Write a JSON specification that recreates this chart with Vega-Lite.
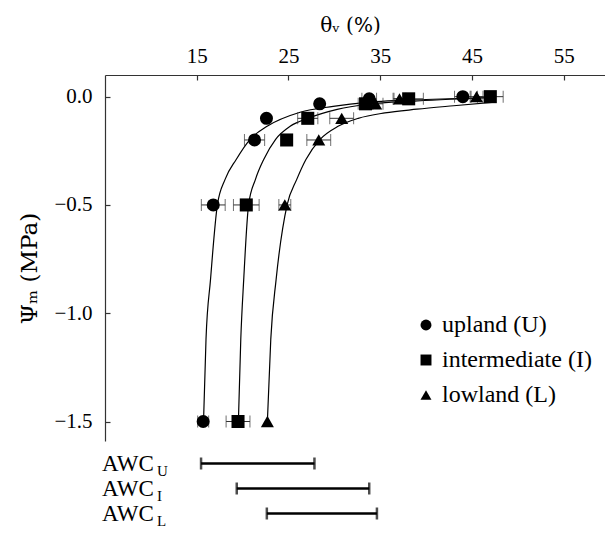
{
  "$schema": "https://vega.github.io/schema/vega-lite/v6.json",
  "padding": {"left": 18, "top": 15, "right": 0, "bottom": 0},
  "config": {
    "view": {"stroke": null},
    "font": "Liberation Serif",
    "concat": {"spacing": 10},
    "axis": {"grid": false, "labelFont": "Liberation Serif", "titleFont": "DejaVu Serif", "titleFontWeight": "normal", "labelColor": "black", "titleColor": "black", "domainColor": "#333", "tickColor": "#333", "domainWidth": 1.2, "tickWidth": 1.2}
  },
  "datasets": {
    "points": [
      {"site": "upland (U)", "psi": 0, "theta": 44.0, "err": 0.9},
      {"site": "upland (U)", "psi": -0.01, "theta": 33.8, "err": 0.8},
      {"site": "upland (U)", "psi": -0.033, "theta": 28.4, "err": 0},
      {"site": "upland (U)", "psi": -0.1, "theta": 22.6, "err": 0},
      {"site": "upland (U)", "psi": -0.2, "theta": 21.3, "err": 1.1},
      {"site": "upland (U)", "psi": -0.5, "theta": 16.8, "err": 1.3},
      {"site": "upland (U)", "psi": -1.5, "theta": 15.7, "err": 0.6},
      {"site": "intermediate (I)", "psi": 0, "theta": 47.0, "err": 1.4},
      {"site": "intermediate (I)", "psi": -0.01, "theta": 38.1, "err": 1.6},
      {"site": "intermediate (I)", "psi": -0.033, "theta": 33.4, "err": 0.8},
      {"site": "intermediate (I)", "psi": -0.1, "theta": 27.1, "err": 1.1},
      {"site": "intermediate (I)", "psi": -0.2, "theta": 24.8, "err": 0},
      {"site": "intermediate (I)", "psi": -0.5, "theta": 20.4, "err": 1.4},
      {"site": "intermediate (I)", "psi": -1.5, "theta": 19.5, "err": 1.3},
      {"site": "lowland (L)", "psi": 0, "theta": 45.5, "err": 0.7},
      {"site": "lowland (L)", "psi": -0.01, "theta": 37.1, "err": 0.7},
      {"site": "lowland (L)", "psi": -0.033, "theta": 34.5, "err": 0.8},
      {"site": "lowland (L)", "psi": -0.1, "theta": 30.8, "err": 1.3},
      {"site": "lowland (L)", "psi": -0.2, "theta": 28.3, "err": 1.3},
      {"site": "lowland (L)", "psi": -0.5, "theta": 24.6, "err": 0.65},
      {"site": "lowland (L)", "psi": -1.5, "theta": 22.7, "err": 0}
    ],
    "curves": [
      {"curve": "U", "theta": 15.74, "psi": -1.5},
      {"curve": "U", "theta": 16.01, "psi": -1.12},
      {"curve": "U", "theta": 16.5, "psi": -0.845},
      {"curve": "U", "theta": 17.25, "psi": -0.5},
      {"curve": "U", "theta": 18.09, "psi": -0.382},
      {"curve": "U", "theta": 19.3, "psi": -0.29},
      {"curve": "U", "theta": 20.82, "psi": -0.197},
      {"curve": "U", "theta": 22.67, "psi": -0.137},
      {"curve": "U", "theta": 26.27, "psi": -0.072},
      {"curve": "U", "theta": 29.87, "psi": -0.045},
      {"curve": "U", "theta": 33.58, "psi": -0.026},
      {"curve": "U", "theta": 40.78, "psi": -0.012},
      {"curve": "U", "theta": 46.8, "psi": -0.004},
      {"curve": "I", "theta": 19.54, "psi": -1.5},
      {"curve": "I", "theta": 19.8, "psi": -1.12},
      {"curve": "I", "theta": 20.12, "psi": -0.845},
      {"curve": "I", "theta": 20.65, "psi": -0.5},
      {"curve": "I", "theta": 21.4, "psi": -0.382},
      {"curve": "I", "theta": 22.3, "psi": -0.29},
      {"curve": "I", "theta": 23.6, "psi": -0.197},
      {"curve": "I", "theta": 25.18, "psi": -0.137},
      {"curve": "I", "theta": 27.14, "psi": -0.1},
      {"curve": "I", "theta": 30.31, "psi": -0.059},
      {"curve": "I", "theta": 33.58, "psi": -0.035},
      {"curve": "I", "theta": 39.04, "psi": -0.02},
      {"curve": "I", "theta": 47.6, "psi": -0.004},
      {"curve": "L", "theta": 22.7, "psi": -1.5},
      {"curve": "L", "theta": 23.07, "psi": -1.12},
      {"curve": "L", "theta": 23.65, "psi": -0.845},
      {"curve": "L", "theta": 24.85, "psi": -0.5},
      {"curve": "L", "theta": 25.9, "psi": -0.382},
      {"curve": "L", "theta": 26.9, "psi": -0.29},
      {"curve": "L", "theta": 28.45, "psi": -0.197},
      {"curve": "L", "theta": 30.4, "psi": -0.137},
      {"curve": "L", "theta": 32.6, "psi": -0.1},
      {"curve": "L", "theta": 35.5, "psi": -0.075},
      {"curve": "L", "theta": 39.0, "psi": -0.058},
      {"curve": "L", "theta": 43.0, "psi": -0.042},
      {"curve": "L", "theta": 47.5, "psi": -0.025}
    ],
    "awc": [
      {"site": "U", "label": "AWC", "sub": "U", "from": 15.47, "to": 27.83},
      {"site": "I", "label": "AWC", "sub": "I", "from": 19.36, "to": 33.8},
      {"site": "L", "label": "AWC", "sub": "L", "from": 22.64, "to": 34.64}
    ]
  },
  "vconcat": [
    {
      "width": 500,
      "height": 366,
      "layer": [
        {
          "data": {"name": "curves"},
          "mark": {"type": "line", "color": "black", "strokeWidth": 1.2, "interpolate": "monotone"},
          "encoding": {
            "x": {"field": "theta", "type": "quantitative", "title": "θᵥ (%)", "scale": {"domain": [5, 59.5], "nice": false, "zero": false},
              "axis": {"orient": "top", "title": "θᵥ (%)", "titleFont": "DejaVu Serif", "labelFont": "Liberation Serif", "values": [15, 25, 35, 45, 55], "tickSize": -5, "labelPadding": 14, "titlePadding": 10, "labelFontSize": 21, "titleFontSize": 20, "titleX": 245}},
            "y": {"field": "psi", "type": "quantitative", "title": "Ψₘ (MPa)", "scale": {"domain": [-1.59, 0.1], "nice": false, "zero": false},
              "axis": {"title": "Ψₘ (MPa)", "titleFont": "DejaVu Serif", "labelFont": "Liberation Serif", "values": [0, -0.5, -1, -1.5], "format": ".1f", "tickSize": -5, "labelPadding": 18, "titlePadding": 12, "labelFontSize": 21, "titleFontSize": 23, "titleY": 193}},
            "detail": {"field": "curve"},
            "order": {"field": "theta"}
          }
        },
        {
          "data": {"name": "points"},
          "transform": [{"filter": "datum.err > 0"}],
          "mark": {"type": "errorbar", "orient": "horizontal", "color": "#333", "ticks": {"size": 12, "thickness": 1}, "rule": {"strokeWidth": 1}},
          "encoding": {
            "x": {"field": "theta", "type": "quantitative", "title": "θᵥ (%)"},
            "xError": {"field": "err"},
            "y": {"field": "psi", "type": "quantitative", "title": "Ψₘ (MPa)"}
          }
        },
        {
          "data": {"name": "points"},
          "mark": {"type": "point", "filled": true, "color": "black", "size": 170, "opacity": 1},
          "encoding": {
            "x": {"field": "theta", "type": "quantitative", "title": "θᵥ (%)"},
            "y": {"field": "psi", "type": "quantitative", "title": "Ψₘ (MPa)"},
            "shape": {"field": "site", "type": "nominal",
              "scale": {"domain": ["upland (U)", "intermediate (I)", "lowland (L)"], "range": ["circle", "square", "triangle-up"]},
              "legend": {"orient": "none", "legendX": 309, "legendY": 238, "title": null, "labelFontSize": 24, "labelFont": "Liberation Serif", "labelColor": "black", "symbolSize": 120, "symbolFillColor": "black", "symbolStrokeWidth": 0, "rowPadding": 11, "labelOffset": 4, "padding": 0}}
          }
        }
      ]
    },
    {
      "width": 500,
      "height": 75,
      "data": {"name": "awc"},
      "encoding": {
        "y": {"field": "site", "type": "nominal", "scale": {"type": "point", "domain": ["U", "I", "L"], "padding": 0.5}, "axis": null}
      },
      "layer": [
        {
          "mark": {"type": "rule", "color": "black", "strokeWidth": 2.5},
          "encoding": {
            "x": {"field": "from", "type": "quantitative", "scale": {"domain": [5, 59.5], "nice": false, "zero": false}, "axis": null},
            "x2": {"field": "to"}
          }
        },
        {
          "mark": {"type": "tick", "color": "black", "thickness": 2.5, "size": 12},
          "encoding": {"x": {"field": "from", "type": "quantitative", "scale": {"domain": [5, 59.5], "nice": false, "zero": false}, "axis": null}}
        },
        {
          "mark": {"type": "tick", "color": "black", "thickness": 2.5, "size": 12},
          "encoding": {"x": {"field": "to", "type": "quantitative", "scale": {"domain": [5, 59.5], "nice": false, "zero": false}, "axis": null}}
        },
        {
          "mark": {"type": "text", "align": "left", "baseline": "middle", "fontSize": 23, "dx": -3, "color": "black"},
          "encoding": {"x": {"datum": 5, "type": "quantitative", "scale": {"domain": [5, 59.5], "nice": false, "zero": false}, "axis": null}, "text": {"field": "label"}}
        },
        {
          "mark": {"type": "text", "align": "left", "baseline": "middle", "fontSize": 15, "dx": 52, "dy": 7, "color": "black"},
          "encoding": {"x": {"datum": 5, "type": "quantitative", "scale": {"domain": [5, 59.5], "nice": false, "zero": false}, "axis": null}, "text": {"field": "sub"}}
        }
      ]
    }
  ]
}
